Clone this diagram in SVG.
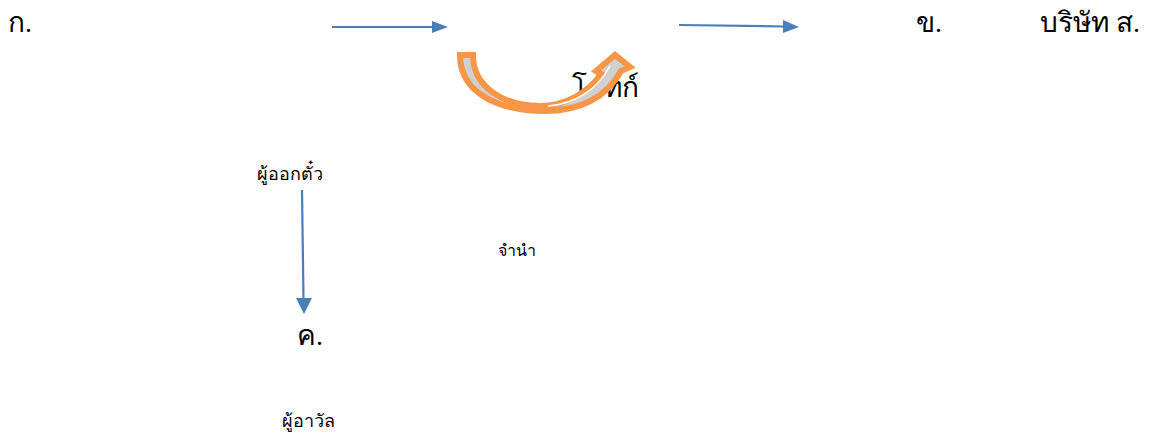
<svg xmlns="http://www.w3.org/2000/svg" width="1157" height="433" viewBox="0 0 1157 433">
<style>
.t{font-family:"Liberation Serif","Noto Sans",serif;fill:#000}
.big{font-size:28px}
.sm{font-size:18px}
.ln{stroke:#4a7ebb;stroke-width:2.2;fill:none}
.hd{fill:#4a7ebb}
</style>
<rect width="1157" height="433" fill="#fff"/>
<g id="node-k"><text class="t big" x="8" y="32">ก.</text></g>
<g id="node-kh"><text class="t big" x="916" y="32">ข.</text></g>
<g id="node-company"><text class="t big" x="1040" y="32">บริษัท ส.</text></g>
<g id="node-drawer"><text class="t sm" x="257" y="180">ผู้ออกตั๋ว</text></g>
<g id="node-pledge"><text class="t" font-size="16" x="498" y="256">จำนำ</text></g>
<g id="node-kho"><text class="t big" x="297" y="345">ค.</text></g>
<g id="node-aval"><text class="t sm" x="282" y="427">ผู้อาวัล</text></g>
<g id="node-label"><text class="t big" x="572" y="97">โลทก์</text></g>
<g id="connectors">
<line class="ln" x1="332" y1="27" x2="434" y2="27"/>
<polygon class="hd" points="432,21 448,27 432,33"/>
<line class="ln" x1="679" y1="25" x2="785" y2="26.5"/>
<polygon class="hd" points="783,20 799,27 783,33"/>
<line class="ln" x1="302" y1="190" x2="303.5" y2="300"/>
<polygon class="hd" points="296,298 304,314 312,298"/>
<path d="M460,55 L473,55 C473,88 505,106 540,106 C565,106 588,93 601,74 L596,71 L615,55 L630,67 L621,71 C607,97 580,111 545,111 C500,111 460,94 460,55 Z" fill="#d0d0d0" stroke="#f79646" stroke-width="6" stroke-linejoin="miter"/>
<path d="M548,106 C575,104 597,90 610,66" fill="none" stroke="#fff" stroke-width="1.5"/>
</g>
</svg>
